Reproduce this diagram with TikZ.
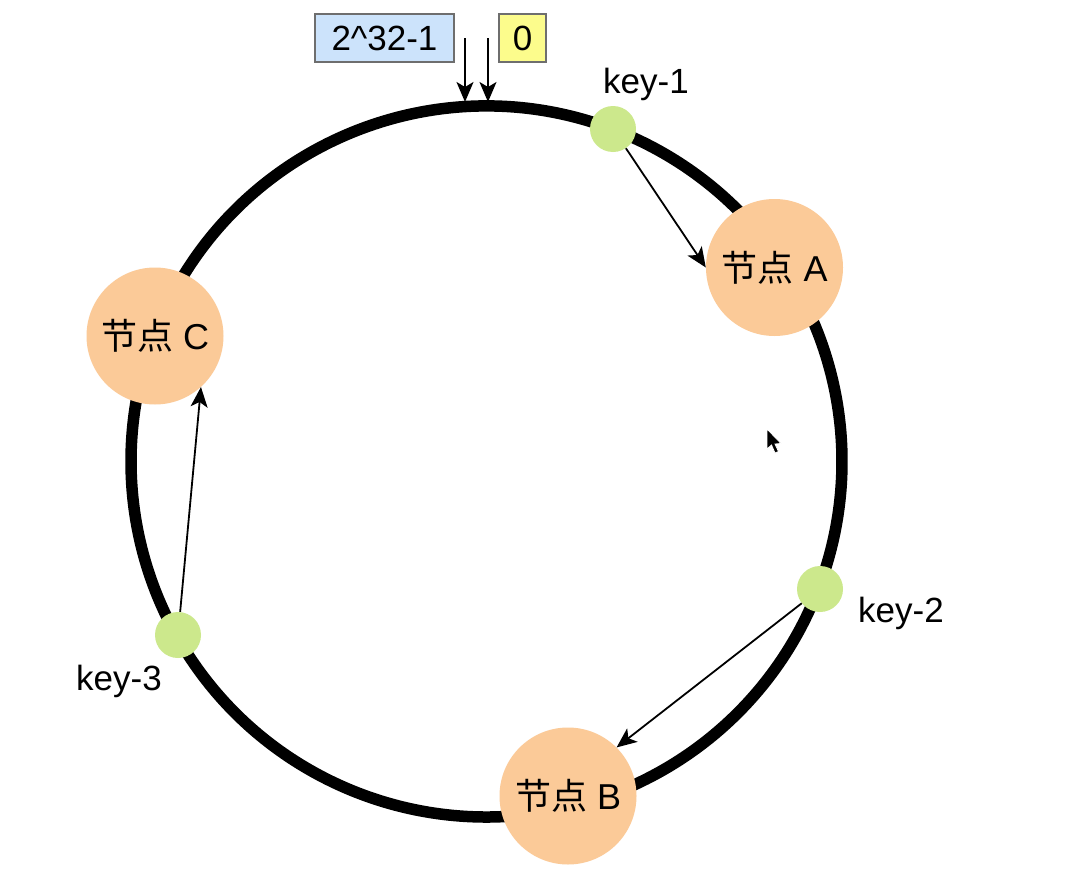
\documentclass[tikz,border=0pt]{standalone}
\usepackage{fontspec}
\setmainfont{Liberation Sans}
\newfontfamily\cjk{Noto Sans CJK SC}
\usetikzlibrary{arrows.meta}
\definecolor{nodeorange}{HTML}{FBCA98}
\definecolor{keygreen}{HTML}{CCE88C}
\definecolor{boxblue}{HTML}{CCE3FB}
\definecolor{boxyellow}{HTML}{FCFC8C}
\definecolor{boxborder}{HTML}{6E6E6E}
\tikzset{
  ringline/.style={line width=11.5pt, black, line join=round},
  servernode/.style={circle, fill=nodeorange, inner sep=0pt, minimum size=137pt, font=\fontsize{36}{42}\selectfont},
  keynode/.style={circle, fill=keygreen, inner sep=0pt, minimum size=46pt},
  keylabel/.style={anchor=base, font=\fontsize{35}{42}\selectfont},
  valbox/.style={draw=boxborder, line width=1.5pt, inner sep=0pt, minimum height=48pt, text depth=0pt, font=\fontsize{35}{42}\selectfont},
  maparrow/.style={line width=1.8pt, -{Stealth[length=20pt, width=17pt, inset=5pt]}},
}
\begin{document}
\begin{tikzpicture}[x=1pt, y=-1pt]
\path[use as bounding box, fill=white] (0,0) rectangle (1076,878);
% ring, drawn as arcs joined under the nodes (y axis points down, so angles run clockwise)
\coordinate (ringc) at (486.5,461.5);
\draw[ringline] (ringc) ++(21:355.5)
  arc[start angle=21, end angle=-34, radius=355.5]
  arc[start angle=-34, end angle=-69, radius=355.5]
  arc[start angle=-69, end angle=-159, radius=355.5]
  arc[start angle=-159, end angle=-209, radius=355.5]
  arc[start angle=-209, end angle=-283.7, radius=355.5]
  arc[start angle=-283.7, end angle=-339, radius=355.5];
% value boxes
\node[valbox, fill=boxblue, minimum width=139pt] (bmax) at (384.5,38) {2\^{}32-1};
\node[valbox, fill=boxyellow, minimum width=47pt] (bzero) at (522.5,38) {0};
\coordinate (smax) at (465,38);
\coordinate (szero) at (488,38);
\coordinate (emax) at (465,102);
\coordinate (ezero) at (488,102);
\draw[maparrow] (smax) -- (emax);
\draw[maparrow] (szero) -- (ezero);
% server nodes
\node[servernode] (A) at (774.5,267.5) {{\cjk 节点} A};
\node[servernode] (B) at (568,796) {{\cjk 节点} B};
\node[servernode] (C) at (155,336) {{\cjk 节点} C};
% keys
\node[keynode] (k1) at (613,129) {};
\node[keynode] (k2) at (820,589) {};
\node[keynode] (k3) at (178,635) {};
\node[keylabel] (l1) at (646,93) {key-1};
\node[keylabel] (l2) at (901,622) {key-2};
\node[keylabel] (l3) at (119,690) {key-3};
% mapping arrows
\draw[maparrow] (k1) -- (A.west);
\draw[maparrow] (k2) -- (B.north east);
\draw[maparrow] (k3) -- (C.-48);
% mouse cursor
\filldraw[fill=black, draw=white, line width=0.8pt]
  (767,429) -- (767,449) -- (771.5,445) -- (775,453) -- (778.5,451.5) -- (775,444) -- (781,443.5) -- cycle;
\end{tikzpicture}
\end{document}
